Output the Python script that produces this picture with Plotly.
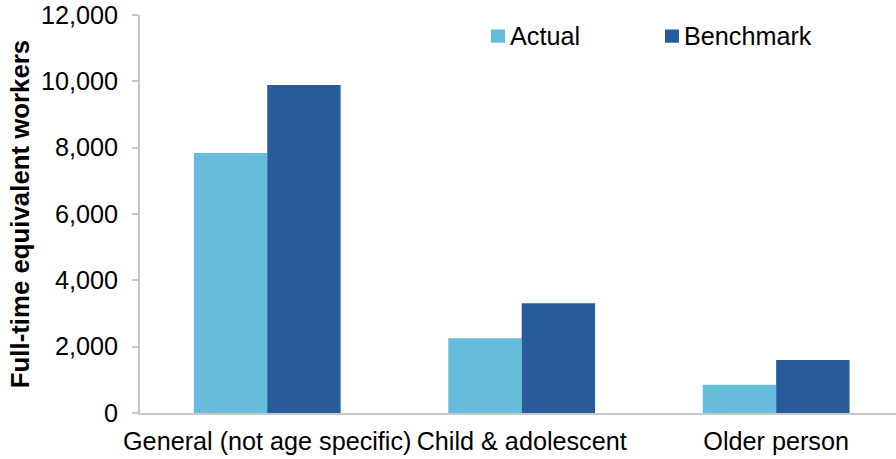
import plotly.graph_objects as go

# Mental health workforce: actual vs benchmark FTE by service type
categories = ["General (not age specific)", "Child & adolescent", "Older person"]
actual = [7840, 2250, 850]
benchmark = [9890, 3310, 1600]
series_names = ["Actual", "Benchmark"]
series_colors = ["#66BCDB", "#285B9A"]
y_ticks = [0, 2000, 4000, 6000, 8000, 10000, 12000]

FONT = "Liberation Sans, Arial, sans-serif"
AXIS_GREY = "#C8C8C8"
TEXT_SIZE = 25.2

fig = go.Figure()
for name, values, color in zip(series_names, [actual, benchmark], series_colors):
    fig.add_trace(go.Bar(
        x=categories, y=values, name=name,
        marker=dict(color=color, line=dict(width=0)),
        showlegend=False,
    ))

# Legend drawn as swatches + labels across the top of the plot area
legend_x = [0.4643, 0.6944]
for x0, name, color in zip(legend_x, series_names, series_colors):
    fig.add_shape(type="rect", xref="paper", yref="paper",
                  x0=x0, x1=x0 + 0.0185, y0=0.9304, y1=0.9636,
                  fillcolor=color, line=dict(width=0))
    fig.add_annotation(xref="paper", yref="paper", x=x0 + 0.0225, y=0.946,
                       xanchor="left", yanchor="middle", showarrow=False,
                       text=name, font=dict(family=FONT, size=TEXT_SIZE, color="#000000"))

fig.update_layout(
    width=896, height=459,
    margin=dict(l=140, r=0, t=15, b=46),
    paper_bgcolor="white", plot_bgcolor="white",
    barmode="group", bargap=0.423, bargroupgap=0,
    font=dict(family=FONT, size=TEXT_SIZE, color="#000000"),
)
fig.update_xaxes(
    range=[-0.5, 2.471],
    showline=True, linecolor=AXIS_GREY, linewidth=2,
    ticks="", showgrid=False, zeroline=False,
    tickfont=dict(family=FONT, size=TEXT_SIZE, color="#000000"),
    ticklabelstandoff=5,
)
fig.update_yaxes(
    range=[0, 12000], tickvals=y_ticks, tickformat=",d",
    showline=True, linecolor=AXIS_GREY, linewidth=2,
    ticks="outside", ticklen=6, tickcolor=AXIS_GREY, tickwidth=2,
    showgrid=False, zeroline=False,
    tickfont=dict(family=FONT, size=TEXT_SIZE, color="#000000"),
    ticklabelstandoff=9,
    title=dict(text="<b>Full-time equivalent workers</b>", standoff=4,
               font=dict(family=FONT, size=25.8, color="#000000")),
)

fig.write_html("out.html")
